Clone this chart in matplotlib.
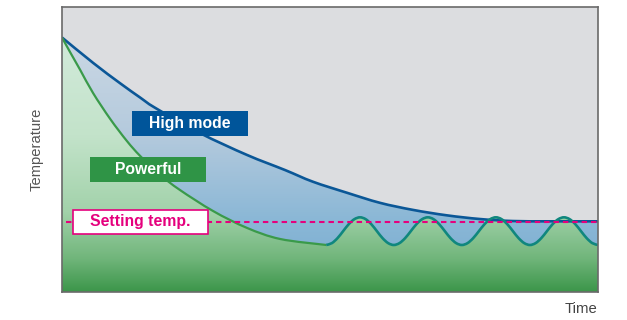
import matplotlib.pyplot as plt
import numpy as np
from matplotlib.colors import LinearSegmentedColormap
from matplotlib.patches import PathPatch, Rectangle
from matplotlib.path import Path

plt.rcParams['font.family'] = ['Liberation Sans', 'DejaVu Sans']

# time and temperature both in % of the axis range
high_t = [0, 5.8, 10.8, 14.6, 17.4, 25.7, 34.5, 41.6, 46.8, 53.2, 59.3,
          65.5, 71.8, 78.0, 84.1, 91.0, 100]
high_temp = [89.3, 80.4, 73.3, 68.2, 64.6, 55.8, 48.1, 42.8, 38.7, 34.8, 31.3,
             28.8, 26.9, 25.6, 24.9, 24.8, 24.8]

power_t = [0, 1.5, 3.4, 5.8, 9.0, 12.1, 14.6, 18.3, 22.0, 28.2, 34.5, 40.7, 49.3]
power_temp = [89.3, 84.2, 77.9, 69.8, 60.7, 53.0, 47.7, 41.1, 35.8, 28.4, 22.5, 18.6, 16.5]

# oscillation after reaching the set point: cycle boundaries + shape of one cycle
osc_bounds = [49.3, 61.9, 74.6, 87.3, 100]
osc_shape = [16.5, 17.15, 18.9, 21.35, 23.8, 25.55, 26.2, 25.55, 23.8, 21.35, 18.9, 17.15]

setting_temp = 24.6

BLUE = "#0b5797"
GREEN = "#3a9a4a"
TEAL = "#10877e"
MAGENTA = "#e5007d"


def smooth_path(xs, ys, close_bottom=False):
    # catmull-rom through the points, drawn as cubic bezier segments
    pts = np.column_stack([xs, ys]).astype(float)
    p = np.vstack([pts[0], pts, pts[-1]])
    verts = [pts[0]]
    codes = [Path.MOVETO]
    for i in range(1, len(p) - 2):
        p0, p1, p2, p3 = p[i - 1], p[i], p[i + 1], p[i + 2]
        verts += [p1 + (p2 - p0) / 6, p2 - (p3 - p1) / 6, p2]
        codes += [Path.CURVE4] * 3
    if close_bottom:
        verts += [(100, 0), (0, 0), pts[0]]
        codes += [Path.LINETO, Path.LINETO, Path.CLOSEPOLY]
    return Path(verts, codes)


def gradient_fill(ax, xs, ys, colors, zorder):
    patch = PathPatch(smooth_path(xs, ys, close_bottom=True), facecolor="none",
                      edgecolor="none")
    ax.add_patch(patch)
    cmap = LinearSegmentedColormap.from_list("grad", colors)
    im = ax.imshow(np.linspace(0, 1, 256).reshape(-1, 1), cmap=cmap, origin="lower",
                   extent=[0, 100, 0, 100], aspect="auto", zorder=zorder)
    im.set_clip_path(patch)


def draw_line(ax, xs, ys, color, lw):
    ax.add_patch(PathPatch(smooth_path(xs, ys), facecolor="none", edgecolor=color,
                           lw=lw, zorder=4, capstyle="butt"))


osc_t, osc_temp = [], []
for a, b in zip(osc_bounds[:-1], osc_bounds[1:]):
    osc_t += list(np.linspace(a, b, len(osc_shape), endpoint=False))
    osc_temp += osc_shape
osc_t.append(osc_bounds[-1])
osc_temp.append(osc_shape[0])

low_t = power_t[:-1] + osc_t
low_temp = power_temp[:-1] + osc_temp

fig = plt.figure(figsize=(6.27, 3.2), dpi=100)
ax = fig.add_axes([62 / 627, 28 / 320, 536 / 627, 285 / 320])
ax.set_facecolor("#dcdde0")

gradient_fill(ax, high_t, high_temp,
              [(0, "#76aad0"), (0.25, "#8ab7d6"), (0.55, "#b4cadd"), (1, "#d2dce6")], 1)
gradient_fill(ax, low_t, low_temp,
              [(0, "#3c964a"), (0.12, "#72b67c"), (0.28, "#a2d2aa"), (0.55, "#c3e3ca"),
               (1, "#d6ecdf")], 2)

draw_line(ax, high_t, high_temp, BLUE, 1.9)
draw_line(ax, power_t, power_temp, GREEN, 1.6)
draw_line(ax, osc_t, osc_temp, TEAL, 1.9)
ax.plot([0.75, 100], [setting_temp, setting_temp], color=MAGENTA, lw=1.5,
        dashes=(2.6, 1.9), zorder=5)

ax.set_xlim(0, 100)
ax.set_ylim(0, 100)
ax.set_xticks([])
ax.set_yticks([])
for sp in ax.spines.values():
    sp.set_color("#6a6a6a")
    sp.set_linewidth(1.2)
    sp.set_zorder(6)

# label boxes
ax.add_patch(Rectangle((13.06, 54.7), 21.64, 8.8, facecolor="#00559a", edgecolor="none", zorder=7))
ax.text(23.9, 59.1, "High mode", color="white", fontsize=11.3, fontweight="bold",
        ha="center", va="center", zorder=8)
ax.add_patch(Rectangle((5.2, 38.6), 21.7, 8.8, facecolor="#2f9446", edgecolor="none", zorder=7))
ax.text(16.05, 43.0, "Powerful", color="white", fontsize=11.3, fontweight="bold",
        ha="center", va="center", zorder=8)
ax.add_patch(Rectangle((2.05, 20.35), 25.15, 8.45, facecolor="white", edgecolor=MAGENTA,
                       lw=1.2, zorder=7))
ax.text(14.6, 24.6, "Setting temp.", color=MAGENTA, fontsize=11.3, fontweight="bold",
        ha="center", va="center", zorder=8)

fig.text(37 / 627, 1 - 149 / 320, "Temperature", rotation=90, color="#555555",
         fontsize=10.6, ha="center", va="center")
fig.text(597 / 627, 1 - 313 / 320, "Time", color="#444444", fontsize=10.7,
         ha="right", va="baseline")

fig.savefig("out.png", dpi=100)
